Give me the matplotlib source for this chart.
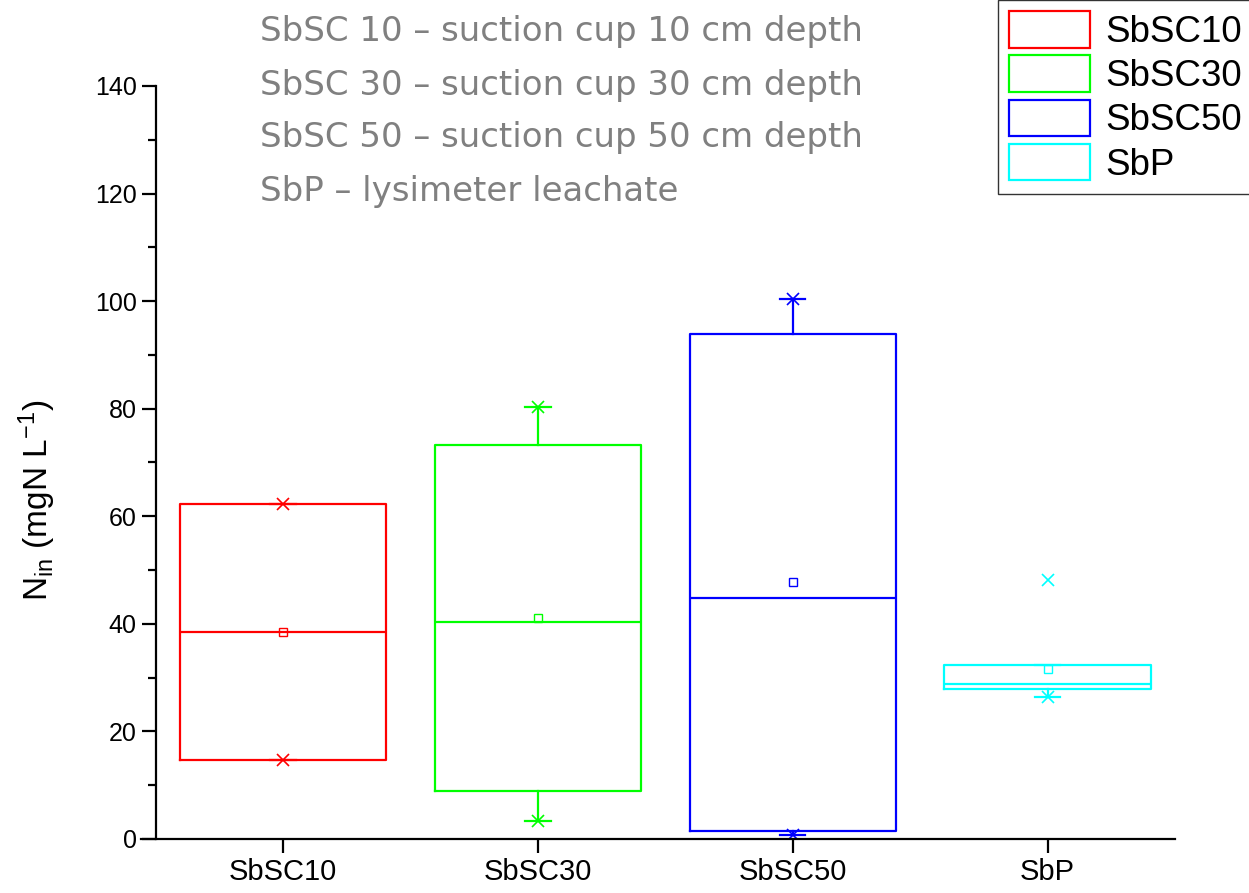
import matplotlib
matplotlib.use('Agg')
import matplotlib.pyplot as plt
from matplotlib.patches import Patch
from matplotlib.ticker import MultipleLocator

plt.rcParams['font.family'] = ['Liberation Sans', 'DejaVu Sans']
plt.rcParams['mathtext.fontset'] = 'custom'
plt.rcParams['mathtext.rm'] = 'Liberation Sans'
plt.rcParams['mathtext.it'] = 'Liberation Sans:italic'

# box statistics (mgN/L)
labels = ['SbSC10', 'SbSC30', 'SbSC50', 'SbP']
colors = ['#ff0000', '#00ff00', '#0000ff', '#00ffff']
q1 = [14.7, 8.9, 1.5, 27.9]
median = [38.5, 40.3, 44.8, 28.8]
q3 = [62.3, 73.2, 93.8, 32.3]
mean = [38.5, 41.1, 47.8, 31.6]
whis_lo = [14.7, 3.3, 0.7, 26.4]
whis_hi = [62.3, 80.3, 100.4, 32.3]
minimum = [14.7, 3.3, 0.7, 26.4]
maximum = [62.3, 80.3, 100.4, 48.1]

notes = ['SbSC 10 \u2013 suction cup 10 cm depth',
         'SbSC 30 \u2013 suction cup 30 cm depth',
         'SbSC 50 \u2013 suction cup 50 cm depth',
         'SbP \u2013 lysimeter leachate']

fig = plt.figure(figsize=(12.49, 8.93), dpi=100)
ax = fig.add_axes([0.1129, 0.0605, 0.8279, 0.8432])

for i, lab in enumerate(labels):
    c = colors[i]
    stats = [dict(label=lab, q1=q1[i], med=median[i], q3=q3[i], mean=mean[i],
                  whislo=whis_lo[i], whishi=whis_hi[i],
                  fliers=[minimum[i], maximum[i]])]
    ax.bxp(stats, positions=[i + 1], widths=0.81, capwidths=0.1,
           showmeans=True, showfliers=True,
           boxprops=dict(color=c, linewidth=1.6),
           medianprops=dict(color=c, linewidth=1.6),
           whiskerprops=dict(color=c, linewidth=1.6),
           capprops=dict(color=c, linewidth=1.6),
           meanprops=dict(marker='s', markerfacecolor='none', markeredgecolor=c,
                          markersize=6, markeredgewidth=1),
           flierprops=dict(marker='x', markeredgecolor=c, markersize=9,
                           markeredgewidth=1.2, linestyle='none'))

ax.set_xlim(0.443, 4.5)
ax.set_ylim(0, 140)
ax.set_xticks(range(1, len(labels) + 1))
ax.set_xticklabels(labels)
ax.yaxis.set_major_locator(MultipleLocator(20))
ax.yaxis.set_minor_locator(MultipleLocator(10))
ax.spines['top'].set_visible(False)
ax.spines['right'].set_visible(False)
ax.spines['left'].set_position(('data', 0.5))
ax.spines['left'].set_bounds(0, 140)
for s in ['left', 'bottom']:
    ax.spines[s].set_linewidth(1.6)
ax.tick_params(axis='both', which='major', direction='out', length=10, width=1.6)
ax.tick_params(axis='y', which='minor', direction='out', length=6, width=1.6)
ax.tick_params(axis='y', labelsize=18)
ax.tick_params(axis='x', labelsize=21)
ax.set_ylabel(r'N$_\mathrm{in}$ (mgN L$^\mathrm{-1}$)', fontsize=24)
ax.yaxis.set_label_coords(-0.08, 0.45)

handles = [Patch(facecolor='white', edgecolor=c, linewidth=1.6) for c in colors]
leg = fig.legend(handles, labels, loc='upper right', bbox_to_anchor=(1.003, 1.0),
                 fontsize=26.5, frameon=True, fancybox=False, edgecolor='black',
                 handlelength=2.2, handleheight=1.15, labelspacing=0.15,
                 borderaxespad=0.0, borderpad=0.3, handletextpad=0.4)
leg.get_frame().set_linewidth(1.0)

for k, t in enumerate(notes):
    fig.text(0.208, 1 - (32 + 53 * k) / 893, t, fontsize=24.5, color='#808080',
             va='center', ha='left', family='DejaVu Sans')

fig.savefig('out.png', dpi=100)
